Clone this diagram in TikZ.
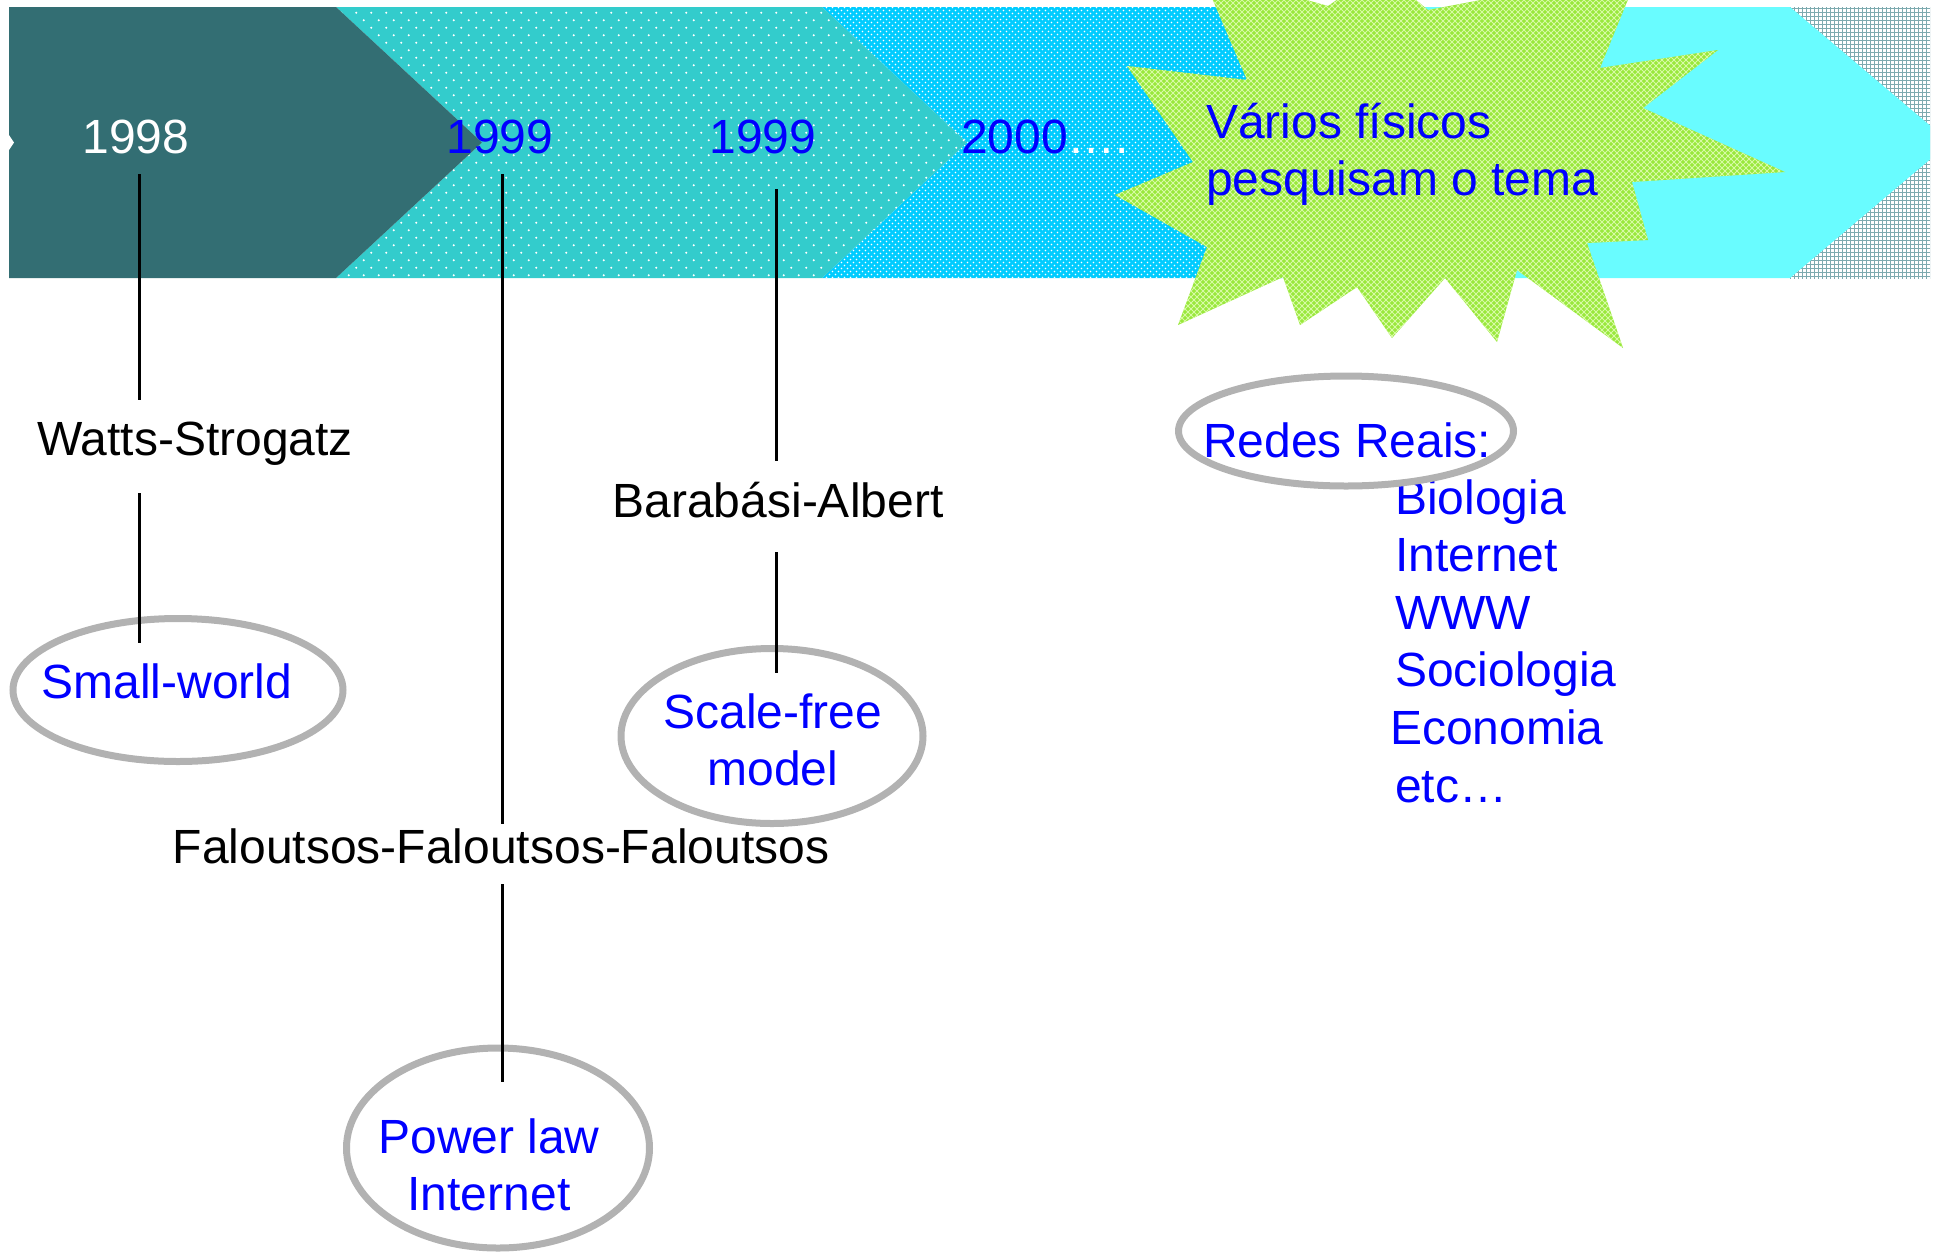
\documentclass[tikz,border=0pt]{standalone}
\usepackage{fontspec}
\setmainfont{Liberation Sans}
\usetikzlibrary{shapes.geometric,patterns.meta}
\definecolor{darkteal}{RGB}{51,110,115}
\definecolor{turq}{RGB}{51,204,204}
\definecolor{skyc}{RGB}{0,204,255}
\definecolor{lcyan}{RGB}{105,252,255}
\definecolor{hatchc}{RGB}{125,170,175}
\definecolor{burstc}{RGB}{153,232,60}
\definecolor{burstlat}{RGB}{215,250,165}
\definecolor{ovalgray}{RGB}{178,178,178}
\definecolor{tblue}{RGB}{0,0,255}
\tikzdeclarepattern{name=sparsedots,type=uncolored,
  bottom left={(-.1pt,-.1pt)},top right={(7.6pt,7.6pt)},tile size={(7.5pt,7.5pt)},
  code={\tikzset{x=1pt,y=1pt}\fill (1.875,1.875) circle (0.55) (5.625,5.625) circle (0.55);}}
\tikzdeclarepattern{name=densedots,type=uncolored,
  bottom left={(-.1pt,-.1pt)},top right={(3.1pt,3.1pt)},tile size={(3pt,3pt)},
  code={\tikzset{x=1pt,y=1pt}\fill (0.75,0.75) circle (0.45) (2.25,2.25) circle (0.45);}}
\tikzdeclarepattern{name=lattice,type=uncolored,
  bottom left={(-.1pt,-.1pt)},top right={(3.1pt,3.1pt)},tile size={(3pt,3pt)},
  code={\tikzset{x=1pt,y=1pt}\draw[line width=0.5pt] (0,0)--(3,3) (0,3)--(3,0);}}
\tikzdeclarepattern{name=finegrid,type=uncolored,
  bottom left={(-.1pt,-.1pt)},top right={(2.1pt,2.1pt)},tile size={(2pt,2pt)},
  code={\tikzset{x=1pt,y=1pt}\draw[line width=0.35pt] (0,1)--(2,1) (1,0)--(1,2);}}
\newcommand\mylines[2][c]{\begin{tabular}[t]{@{}#1@{}}#2\end{tabular}}
\begin{document}
\begin{tikzpicture}[x=0.5pt,y=-0.5pt,
  every node/.style={inner sep=0pt,outer sep=0pt,font=\fontsize{24}{28.8}\selectfont},
  txt/.style={anchor=base},
  txtl/.style={anchor=base west},
  bluetxt/.style={text=tblue},
  conn/.style={line width=1.5pt,black},
  oval/.style={ellipse,draw=ovalgray,line width=3.5pt}]
\useasboundingbox (0,0) rectangle (1939,1254);
\begin{scope}
\clip (0,0) rectangle (1930,1254);
% hatched background at the right end
\path[preaction={fill=white},pattern=finegrid,pattern color=hatchc] (1790,7) rectangle (1930,278);
% segment 4
\fill[lcyan] (1304,7) -- (1790,7) -- (1950,142.5) -- (1790,278) -- (1304,278) -- (1449,142.5) -- cycle;
% segment 3
\path[preaction={fill=skyc},pattern=densedots,pattern color=white]
  (822,7) -- (1304,7) -- (1449,142.5) -- (1304,278) -- (822,278) -- (967,142.5) -- cycle;
% segment 2
\path[preaction={fill=turq},pattern=sparsedots,pattern color=white]
  (336,7) -- (822,7) -- (967,142.5) -- (822,278) -- (336,278) -- (482,142.5) -- cycle;
% segment 1
\fill[darkteal] (9,7) -- (336,7) -- (482,142.5) -- (336,278) -- (9,278) -- cycle;
\fill[white] (9,135) -- (14,142.5) -- (9,150) -- cycle;
% starburst
\path[preaction={fill=burstc},pattern=lattice,pattern color=burstlat]
  (1200,-30) -- (1247,80) -- (1127,66) -- (1193,162) -- (1115,195) -- (1207,247)
  -- (1178,325) -- (1283,277) -- (1300,325) -- (1357,287) -- (1392,338) -- (1445,278)
  -- (1497,342) -- (1517,270) -- (1623,348) -- (1587,243) -- (1648,240) -- (1632,182)
  -- (1785,172) -- (1643,108) -- (1718,50) -- (1600,68) -- (1640,-30) -- (1428,10)
  -- (1380,-30) -- (1328,6) -- cycle;
\end{scope}
% years
\node[txt,text=white] (y98) at (136,153) {1998};
\node[txt,bluetxt] (y99a) at (500,153) {1999};
\node[txt,bluetxt] (y99b) at (763,153) {1999};
\node[txtl] (y00) at (961,153) {\textcolor{tblue}{2000}\textcolor{white}{….}};
\node[txtl,bluetxt] (burstT) at (1206,138) {\mylines[l]{Vários físicos\\pesquisam o tema}};
% names
\node[txt] (ws) at (195,455) {Watts-Strogatz};
\node[txt] (ba) at (778,517) {Barabási-Albert};
\node[txt] (fff) at (501,863) {Faloutsos-Faloutsos-Faloutsos};
% models
\node[oval,minimum width=165pt,minimum height=71.5pt] (swE) at (178,690) {};
\node[txt,bluetxt] (sw) at (167,698) {Small-world};
\node[oval,minimum width=151pt,minimum height=87.5pt] (sfE) at (772,736) {};
\node[txt,bluetxt] (sf) at (773,728) {\mylines{Scale-free\\model}};
\node[oval,minimum width=151.5pt,minimum height=100pt] (plE) at (498,1148) {};
\node[txt,bluetxt] (pl) at (489,1153) {\mylines{Power law\\Internet}};
% real networks
\node[txtl,bluetxt] (list) at (1395,514) {\mylines[l]{Biologia\\Internet\\WWW\\Sociologia\\\kern-2.5pt Economia\\etc…}};
\node[oval,minimum width=167.5pt,minimum height=55pt] (rrE) at (1346,431) {};
\node[txtl,bluetxt] (rr) at (1203,457) {Redes Reais:};
% connectors
\coordinate (a1) at (139,174); \coordinate (a2) at (139,400);
\coordinate (a3) at (139,493); \coordinate (a4) at (139,643);
\coordinate (b1) at (502,174); \coordinate (b2) at (502,824);
\coordinate (b3) at (502,884); \coordinate (b4) at (502,1082);
\coordinate (c1) at (776,189); \coordinate (c2) at (776,461);
\coordinate (c3) at (776,552); \coordinate (c4) at (776,673);
\draw[conn] (a1) -- (a2);
\draw[conn] (a3) -- (a4);
\draw[conn] (b1) -- (b2);
\draw[conn] (b3) -- (b4);
\draw[conn] (c1) -- (c2);
\draw[conn] (c3) -- (c4);
\end{tikzpicture}
\end{document}
